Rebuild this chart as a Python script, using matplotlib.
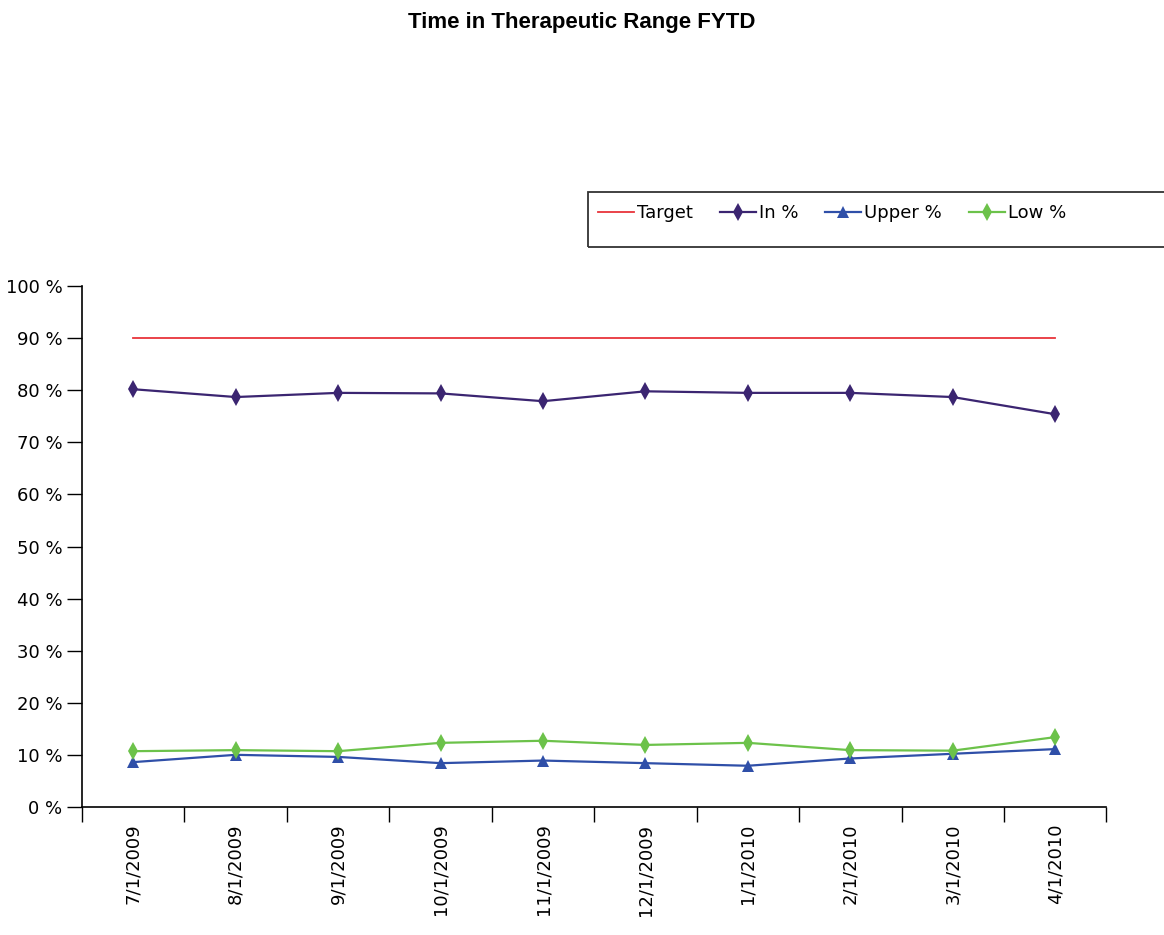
import matplotlib
matplotlib.use("Agg")
import matplotlib.pyplot as plt
from matplotlib.patches import Rectangle

dates = ["7/1/2009", "8/1/2009", "9/1/2009", "10/1/2009", "11/1/2009",
         "12/1/2009", "1/1/2010", "2/1/2010", "3/1/2010", "4/1/2010"]
target = [90] * 10
in_pct = [80.2, 78.7, 79.5, 79.4, 77.9, 79.8, 79.5, 79.5, 78.7, 75.4]
upper_pct = [8.6, 10.0, 9.6, 8.4, 8.9, 8.4, 7.9, 9.3, 10.2, 11.1]
low_pct = [10.7, 10.9, 10.7, 12.3, 12.7, 11.9, 12.3, 10.9, 10.8, 13.4]
yticks = list(range(0, 101, 10))

fig = plt.figure(figsize=(11.64, 9.35), dpi=100)
ax = fig.add_axes([0.0705, 0.137, 0.880, 0.557])

x = list(range(len(dates)))
ax.plot(x, target, color="#e8343a", lw=1.3, label="Target")
ax.plot(x, in_pct, color="#3b2571", lw=1.6, marker="d", ms=9, mew=0,
        label="In %")
ax.plot(x, upper_pct, color="#2f4fa8", lw=1.6, marker="^", ms=9, mew=0,
        label="Upper %")
ax.plot(x, low_pct, color="#6cc24a", lw=1.6, marker="d", ms=9, mew=0,
        label="Low %")

ax.set_xlim(-0.5, len(dates) - 0.5)
ax.set_ylim(0, 100)
ax.set_yticks(yticks)
ax.set_yticklabels([f"{v} %" for v in yticks], fontsize=13)

# category ticks sit between the labels
ax.set_xticks([i - 0.5 for i in range(len(dates) + 1)])
ax.set_xticklabels([])
ax.set_xticks(x, minor=True)
ax.set_xticklabels(dates, minor=True, rotation=90, fontsize=13)
ax.tick_params(axis="x", which="minor", length=0, pad=12)
ax.tick_params(axis="x", which="major", length=11, width=1)
ax.tick_params(axis="y", length=11, width=1, pad=3)

ax.spines["top"].set_visible(False)
ax.spines["right"].set_visible(False)
ax.spines["left"].set_linewidth(1.2)
ax.spines["bottom"].set_linewidth(1.2)

fig.text(0.5, 0.976, "Time in Therapeutic Range FYTD", ha="center",
         va="center", fontsize=16, fontweight="bold",
         family="Liberation Sans")

# legend box runs off the right edge
fig.patches.append(Rectangle((0.505, 0.736), 0.52, 0.059,
                             transform=fig.transFigure, fill=False,
                             edgecolor="#333333", lw=1.3))
leg = fig.legend(loc="center left", bbox_to_anchor=(0.506, 0.772), ncol=4,
                 frameon=False, fontsize=13, handlelength=2.0,
                 handletextpad=0.15, columnspacing=1.5, borderpad=0)

fig.savefig("out.png", dpi=100)
